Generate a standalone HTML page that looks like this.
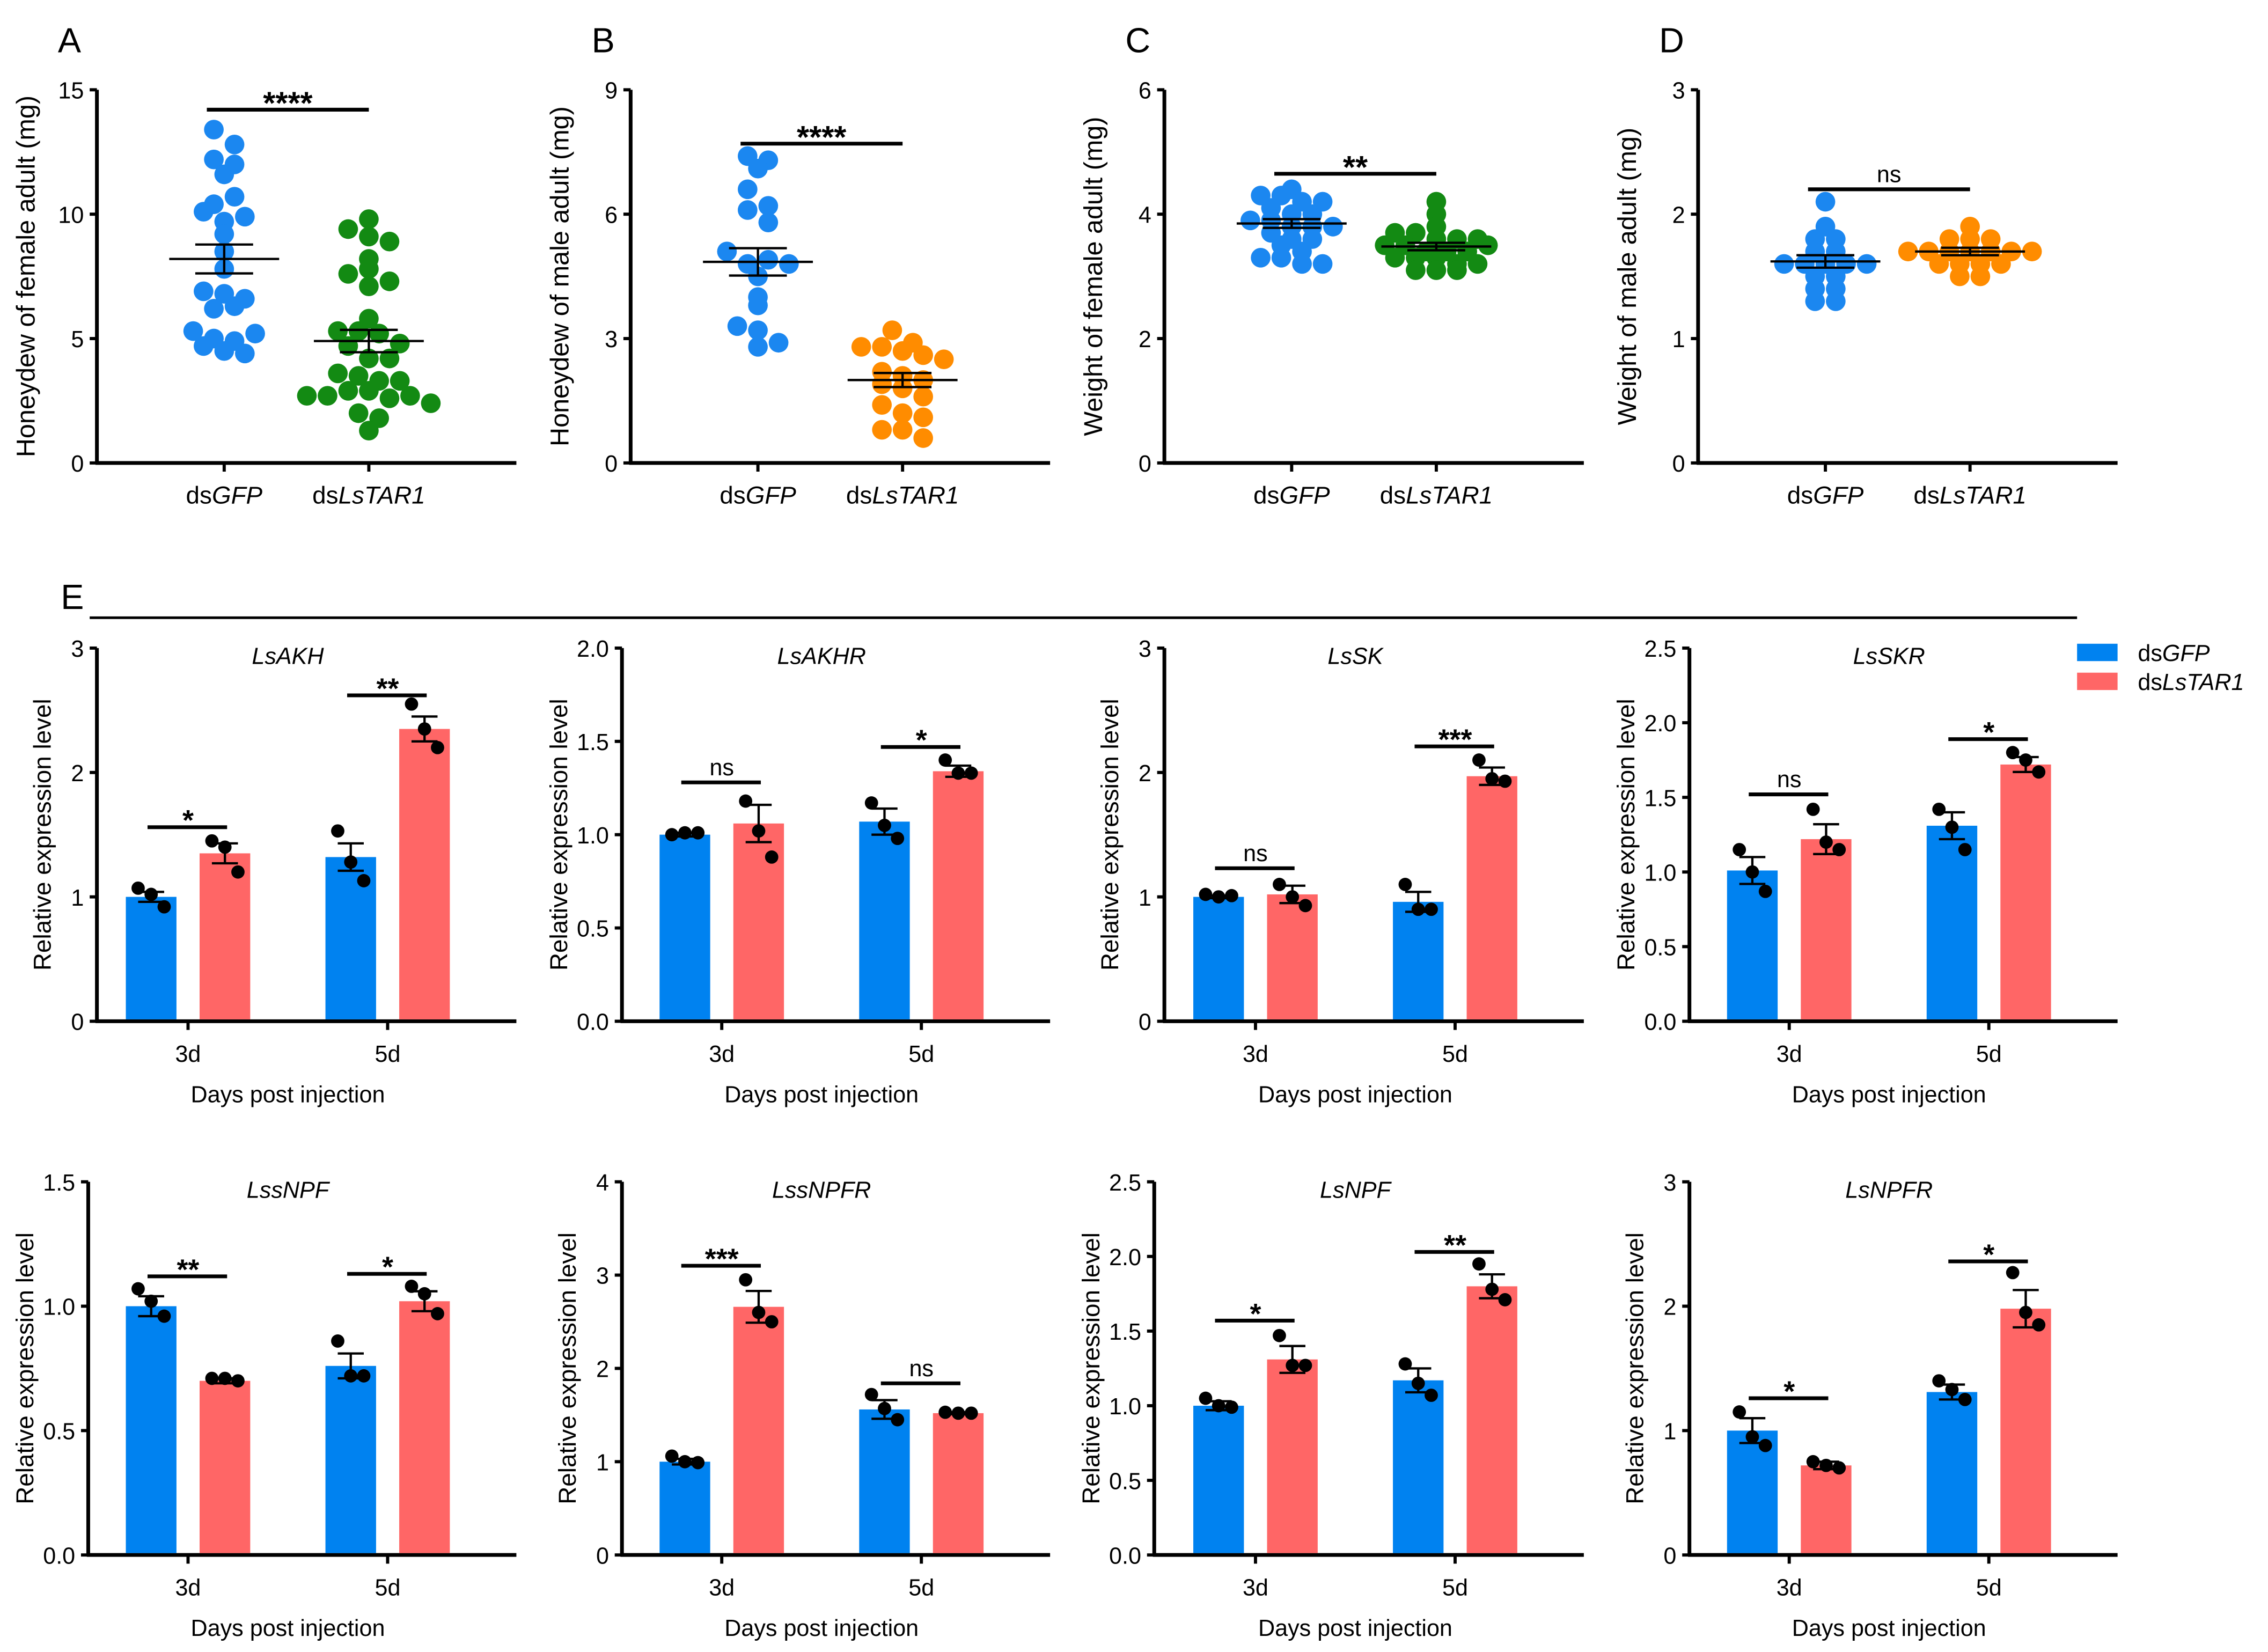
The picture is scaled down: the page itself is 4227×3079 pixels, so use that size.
<!DOCTYPE html>
<html><head><meta charset="utf-8"><style>
html,body{margin:0;padding:0;background:#fff}
svg{display:block;font-family:"Liberation Sans",Arial,sans-serif}
</style></head><body>
<svg id="fig" xmlns="http://www.w3.org/2000/svg" width="4227" height="3079" viewBox="0 0 1568 1142">
<rect x="0" y="0" width="1568" height="1142" fill="#fff"/>
<g id="root"></g>
</svg>
<script>
// ---------- scatter panel data ----------
const scatterLetters = ["A","B","C","D"];
const scatterYMax = [15, 9, 6, 3];
const scatterYStep = [5, 3, 2, 1];
const scatterTitles = ["Honeydew of female adult (mg)","Honeydew of male adult (mg)","Weight of female adult (mg)","Weight of male adult (mg)"];
const scatterSig = ["****","****","**","ns"];
const scatterSigY = [14.2, 7.7, 4.65, 2.2];
const scatterColors2 = ["#138a13","#ff8c00","#138a13","#ff8c00"];
const gfpA = [13.4,12.8,12.2,11.6,12.0,10.4,10.1,10.7,9.7,9.9,9.2,8.5,7.8,6.9,6.8,6.6,6.2,6.3,5.3,5.0,4.7,4.9,5.2,4.5,4.4];
const tarA = [9.8,9.4,9.1,8.9,8.2,7.6,7.8,7.3,7.1,5.8,5.3,5.3,5.2,4.8,4.7,4.2,4.2,3.6,3.5,3.3,3.3,2.7,2.7,2.9,2.9,2.6,2.7,2.4,2.0,1.8,1.3];
const gfpB = [7.4,7.3,7.1,6.6,6.1,6.2,5.8,5.1,4.8,4.9,4.8,4.5,4.0,3.8,3.3,3.2,2.9,2.8];
const tarB = [3.2,2.9,2.8,2.8,2.7,2.6,2.5,2.2,2.1,2.0,1.9,1.8,1.6,1.4,1.2,1.1,0.8,0.8,0.6];
const gfpC = [4.4,4.3,4.3,4.2,4.2,4.1,4.0,4.0,3.9,3.9,3.8,3.8,3.8,3.7,3.6,3.6,3.5,3.4,3.3,3.3,3.2,3.2];
const tarC = [4.2,4.0,3.8,3.7,3.7,3.6,3.6,3.5,3.5,3.4,3.4,3.4,3.3,3.3,3.3,3.2,3.2,3.1,3.1,3.1,3.6,3.5];
const gfpD = [2.1,1.9,1.8,1.8,1.7,1.7,1.6,1.6,1.6,1.6,1.5,1.5,1.4,1.4,1.3,1.3,1.6];
const tarD = [1.9,1.8,1.8,1.8,1.7,1.7,1.7,1.7,1.7,1.7,1.6,1.6,1.6,1.6,1.5,1.5,1.7];
const gfpMeanSem = [[8.2,0.58],[4.85,0.33],[3.85,0.07],[1.62,0.05]];
const tarMeanSem = [[4.9,0.45],[2.0,0.17],[3.48,0.06],[1.70,0.03]];

// ---------- bar panel data ----------
const genes = ["LsAKH","LsAKHR","LsSK","LsSKR","LssNPF","LssNPFR","LsNPF","LsNPFR"];
const geneYMax = [3,2,3,2.5,1.5,4,2.5,3];
const geneYStep = [1,0.5,1,0.5,0.5,1,0.5,1];
const geneDec = [0,1,0,1,1,0,1,0];
const days = ["3d","5d"];
const gfpMean = [[1.0,1.32],[1.0,1.07],[1.0,0.96],[1.01,1.31],[1.0,0.76],[1.0,1.56],[1.0,1.17],[1.0,1.31]];
const gfpSem = [[0.04,0.11],[0.01,0.07],[0.01,0.08],[0.09,0.09],[0.04,0.05],[0.03,0.1],[0.03,0.08],[0.1,0.06]];
const tarMean = [[1.35,2.35],[1.06,1.34],[1.02,1.97],[1.22,1.72],[0.7,1.02],[2.66,1.52],[1.31,1.8],[0.72,1.98]];
const tarSem = [[0.08,0.1],[0.1,0.03],[0.07,0.07],[0.1,0.05],[0.01,0.04],[0.17,0.01],[0.09,0.08],[0.03,0.15]];
const gfpPts = [
 [[1.07,1.02,0.92],[1.53,1.28,1.13]],
 [[1.0,1.01,1.01],[1.17,1.05,0.98]],
 [[1.02,1.0,1.01],[1.1,0.9,0.9]],
 [[1.15,1.0,0.87],[1.42,1.3,1.15]],
 [[1.07,1.02,0.96],[0.86,0.72,0.72]],
 [[1.06,1.0,0.99],[1.72,1.57,1.45]],
 [[1.05,1.0,0.99],[1.28,1.15,1.07]],
 [[1.15,0.95,0.88],[1.4,1.33,1.25]]];
const tarPts = [
 [[1.45,1.4,1.2],[2.55,2.35,2.2]],
 [[1.18,1.02,0.88],[1.4,1.33,1.33]],
 [[1.1,1.0,0.93],[2.1,1.95,1.93]],
 [[1.42,1.2,1.15],[1.8,1.75,1.67]],
 [[0.71,0.71,0.70],[1.08,1.05,0.97]],
 [[2.95,2.6,2.5],[1.53,1.52,1.52]],
 [[1.47,1.27,1.27],[1.95,1.78,1.71]],
 [[0.75,0.72,0.7],[2.27,1.95,1.85]]];
const sigLabel = [["*","**"],["ns","*"],["ns","***"],["ns","*"],["**","*"],["***","ns"],["*","**"],["*","*"]];
const sigVal = [[1.56,2.62],[1.28,1.47],[1.23,2.21],[1.52,1.89],[1.12,1.13],[3.1,1.84],[1.57,2.03],[1.26,2.36]];

const NS="http://www.w3.org/2000/svg";
const root=document.getElementById('root');
function mk(tag,attrs,parent,text){const e=document.createElementNS(NS,tag);for(const k in attrs)e.setAttribute(k,attrs[k]);if(text!==undefined)e.textContent=text;(parent||root).appendChild(e);return e;}
function line(p,x1,y1,x2,y2,w){return mk('line',{x1,y1,x2,y2,stroke:'#000','stroke-width':w||1.6},p);}

// ---------- scatter panels ----------
const scatterData=[[gfpA,tarA],[gfpB,tarB],[gfpC,tarC],[gfpD,tarD]];
const swarmRowFactor=[2,2,1.25,1.25]; // layout style, not data
for(let k=0;k<4;k++){
  const ax=67+369*k, top=62, bot=320;
  const g=mk('g',{});
  
  
  const y=v=>bot-(v/scatterYMax[k])*(bot-top);
  const lt=mk('text',{x:ax-27,y:36,'font-size':24},g,scatterLetters[k]);
  
  
  line(g,ax,top,ax,bot+1,2.6);
  line(g,ax-1,bot,ax+290,bot,2.6);
  for(let v=0;v<=scatterYMax[k]+1e-9;v+=scatterYStep[k]){
    line(g,ax-5,y(v),ax,y(v),2.2);
    const t=mk('text',{x:ax-9,y:y(v)+6,'font-size':16,'text-anchor':'end'},g,String(v));
    
    
  }
  const yt=mk('text',{x:0,y:0,'font-size':18,'text-anchor':'middle',transform:`translate(${ax-43},${(top+bot)/2}) rotate(-90)`},g,scatterTitles[k]);
  
  
  const cx=[ax+88,ax+188];
  const labels=[["ds","GFP"],["ds","LsTAR1"]];
  for(let c=0;c<2;c++){
    line(g,cx[c],bot,cx[c],bot+6,2.2);
    const t=mk('text',{x:cx[c],y:348,'font-size':17,'text-anchor':'middle'},g);
    
    
    mk('tspan',{},t,labels[c][0]); mk('tspan',{'font-style':'italic'},t,labels[c][1]);
    const r=6.8, rowH=r*swarmRowFactor[k];
    const color=c===0?'#1b87f0':scatterColors2[k];
    const rows={};
    scatterData[k][c].forEach(v=>{const key=Math.round(y(v)/rowH);(rows[key]=rows[key]||[]).push(v);});
    Object.keys(rows).forEach(key=>{
      const vs=rows[key], n=vs.length;
      vs.forEach((v,i)=>{
        const off=(i-(n-1)/2)*2*r*1.05;
        const d=mk('circle',{cx:cx[c]+off,cy:y(v),r:r,fill:color},g);
        
        
      });
    });
    const ms=c===0?gfpMeanSem[k]:tarMeanSem[k];
    line(g,cx[c]-38,y(ms[0]),cx[c]+38,y(ms[0]),1.6);
    line(g,cx[c]-20,y(ms[0]+ms[1]),cx[c]+20,y(ms[0]+ms[1]),1.6);
    line(g,cx[c]-20,y(ms[0]-ms[1]),cx[c]+20,y(ms[0]-ms[1]),1.6);
    line(g,cx[c],y(ms[0]-ms[1]),cx[c],y(ms[0]+ms[1]),1.6);
  }
  const sy=y(scatterSigY[k]);
  const sl=line(g,cx[0]-12,sy,cx[1],sy,2.6);
  
  
  const st=mk('text',{x:(cx[0]+cx[1])/2-6,y:sy-(scatterSig[k]==='ns'?5:-3),'font-size':scatterSig[k]==='ns'?16:22,'font-weight':scatterSig[k]==='ns'?'normal':'bold','text-anchor':'middle'},g,scatterSig[k]);
  
  
}

// ---------- panel E header ----------
const el=mk('text',{x:42,y:421,'font-size':24},root,'E');


const eline=line(root,62,427,1436,427,1.8);



// legend
const leg=mk('g',{});


[['#0082f0','GFP',451],['#ff6666','LsTAR1',471]].forEach(([col,nm,ly])=>{
  const e=mk('g',{},leg);
  
  
  mk('rect',{x:1436,y:ly-6,width:28,height:12,fill:col},e);
  const t=mk('text',{x:1478,y:ly+6,'font-size':16},e);
  mk('tspan',{},t,'ds'); mk('tspan',{'font-style':'italic'},t,nm);
});

// ---------- bar panels ----------
const axisXs=[67,430,805,1168,61,430,798,1168];
for(let k=0;k<8;k++){
  const col=k%4,row=Math.floor(k/4);
  const b=67+369*col, ax=axisXs[k];
  const top=row===0?448:817, bot=row===0?706:1075;
  const y=v=>bot-(v/geneYMax[k])*(bot-top);
  const g=mk('g',{});
  
  
  line(g,ax,top,ax,bot+1,2.6);
  line(g,ax-1,bot,b+290,bot,2.6);
  for(let v=0;v<=geneYMax[k]+1e-9;v+=geneYStep[k]){
    line(g,ax-5,y(v),ax,y(v),2.2);
    const t=mk('text',{x:ax-9,y:y(v)+6,'font-size':16,'text-anchor':'end'},g,v.toFixed(geneDec[k]));
    
    
  }
  const yt=mk('text',{x:0,y:0,'font-size':17,'text-anchor':'middle',transform:`translate(${ax-38-(geneDec[k]?0:-6)},${(top+bot)/2}) rotate(-90)`},g,'Relative expression level');
  
  
  const tt=mk('text',{x:b+132,y:top+11,'font-size':16,'font-style':'italic','text-anchor':'middle'},g,genes[k]);
  
  
  const xt=mk('text',{x:b+132,y:bot+56,'font-size':16,'text-anchor':'middle'},g,'Days post injection');
  
  
  const centers=[b+63,b+201];
  for(let d=0;d<2;d++){
    const c=centers[d];
    line(g,c,bot,c,bot+6,2.2);
    const tl=mk('text',{x:c,y:bot+28,'font-size':16,'text-anchor':'middle'},g,days[d]);
    
    
    const series=[[gfpMean,gfpSem,gfpPts,'#0082f0',-25.5,'gfp'],[tarMean,tarSem,tarPts,'#ff6666',25.5,'tar1']];
    series.forEach(([M,S,P,color,off,nm])=>{
      const m=M[k][d], s=S[k][d], bx=c+off;
      const r=mk('rect',{x:bx-17.5,y:y(m),width:35,height:bot-y(m)-1.3,fill:color},g);
      
      
      line(g,bx,y(m-s),bx,y(m+s),1.6);
      line(g,bx-9,y(m+s),bx+9,y(m+s),1.6);
      line(g,bx-9,y(m-s),bx+9,y(m-s),1.6);
      const offs=[-9,0,9];
      P[k][d].forEach((v,i)=>{
        const pc=mk('circle',{cx:bx+offs[i],cy:y(v),r:4.6,fill:'#000'},g);
        
        
      });
    });
    const sy=y(sigVal[k][d]);
    const sl=line(g,c-28,sy,c+27,sy,2.6);
    
    
    const lab=sigLabel[k][d], isNs=lab==='ns';
    const st=mk('text',{x:c,y:isNs?sy-5:sy+2,'font-size':isNs?16:20,'font-weight':isNs?'normal':'bold','text-anchor':'middle'},g,lab);
    
    
  }
}
</script>
</body></html>
